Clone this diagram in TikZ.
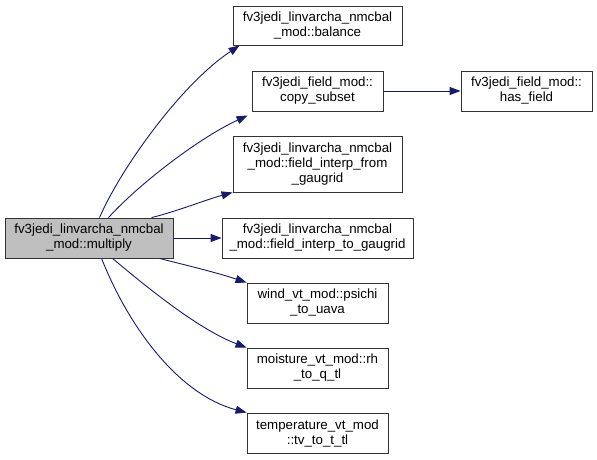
\documentclass[tikz,border=0pt]{standalone}
\usepackage{fontspec}
\setmainfont{Liberation Sans}
\usetikzlibrary{arrows.meta}
\definecolor{edgec}{HTML}{191970}
\definecolor{mainfill}{HTML}{BFBFBF}
\tikzset{
  box/.style={draw=black!80, line width=0.9pt, fill=white, inner sep=0pt, align=center,
    font=\fontsize{13.3}{15}\selectfont},
  mainbox/.style={box, fill=mainfill},
  edge/.style={draw=edgec, line width=0.9pt, -{Triangle[length=11pt,width=8pt]}}
}
\begin{document}
\begin{tikzpicture}[x=1pt,y=-1pt]
\useasboundingbox (0,0) rectangle (597,460);
\node[mainbox, minimum width=168pt, minimum height=40pt] (main) at (89,238) {fv3jedi\_linvarcha\_nmcbal\\\_mod::multiply};
\node[box, minimum width=169pt, minimum height=39pt] (bal) at (317.5,25.5) {fv3jedi\_linvarcha\_nmcbal\\\_mod::balance};
\node[box, minimum width=131pt, minimum height=40pt] (copy) at (317.5,91) {fv3jedi\_field\_mod::\\copy\_subset};
\node[box, minimum width=131pt, minimum height=40pt] (has) at (526.5,91) {fv3jedi\_field\_mod::\\has\_field};
\node[box, minimum width=169pt, minimum height=56pt] (from) at (317.5,164) {fv3jedi\_linvarcha\_nmcbal\\\_mod::field\_interp\_from\\\_gaugrid};
\node[box, minimum width=191pt, minimum height=40pt] (to) at (317.5,238) {fv3jedi\_linvarcha\_nmcbal\\\_mod::field\_interp\_to\_gaugrid};
\node[box, minimum width=141pt, minimum height=40pt] (psi) at (317.5,303) {wind\_vt\_mod::psichi\\\_to\_uava};
\node[box, minimum width=141pt, minimum height=40pt] (rh) at (317.5,368) {moisture\_vt\_mod::rh\\\_to\_q\_tl};
\node[box, minimum width=141pt, minimum height=40pt] (tv) at (317.5,433) {temperature\_vt\_mod\\::tv\_to\_t\_tl};

\draw[edge] ([xshift=95pt]main.north west) .. controls (120,170) and (180,85) .. ([xshift=7pt]bal.south west);
\draw[edge] ([xshift=104pt]main.north west) .. controls (135,188) and (195,140) .. ([xshift=-4pt,yshift=-4pt]copy.south west);
\draw[edge] ([xshift=147pt]main.north west) .. controls (175,212) and (205,200) .. (from.south west);
\draw[edge] (main.east) -- (to.west);
\draw[edge] ([xshift=155pt]main.south west) .. controls (185,265) and (215,272) .. (psi.north west);
\draw[edge] ([xshift=108pt]main.south west) .. controls (150,290) and (200,330) .. (rh.north west);
\draw[edge] ([xshift=97pt]main.south west) .. controls (130,330) and (180,395) .. (tv.north west);
\draw[edge] (copy.east) -- (has.west);
\end{tikzpicture}
\end{document}
